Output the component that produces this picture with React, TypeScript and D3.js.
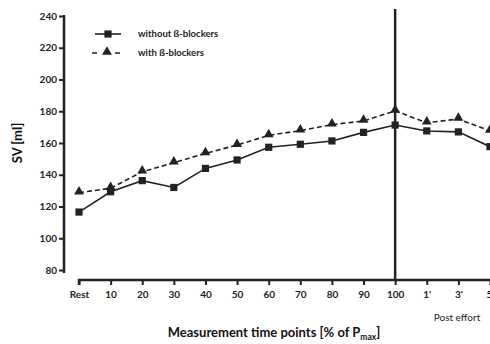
import * as d3 from 'd3';
import { useEffect, useRef } from 'react';

const categories = ['Rest', '10', '20', '30', '40', '50', '60', '70', '80', '90', '100', "1'", "3'", "5'"];
const withoutBlockers = [116.5, 129.3, 136.3, 132, 144, 149.3, 157.3, 159.2, 161.3, 166.7, 171.3, 167.6, 167, 157.7];
const withBlockers = [128.7, 131.5, 141.9, 147.6, 153.5, 158.7, 164.8, 167.8, 171.6, 173.9, 180.2, 172.8, 175.1, 167.6];
const yTicks = [80, 100, 120, 140, 160, 180, 200, 220, 240];

const INK = '#222';
const FONT = 'Lato, "Open Sans", sans-serif';

export default function App() {
  const ref = useRef<SVGSVGElement | null>(null);

  useEffect(() => {
    const svg = d3.select(ref.current);
    svg.selectAll('*').remove();
    const width = 490;
    const height = 344;

    const x = d3.scalePoint<string>().domain(categories).range([79, 490]);
    const y = d3.scaleLinear().domain([80, 240]).range([270, 16]);
    const axisY = 280;
    const yAxisX = 64;

    svg.attr('viewBox', `0 0 ${width} ${height}`);
    svg.append('rect').attr('width', width).attr('height', height).attr('fill', '#fff');

    // y axis
    const gy = svg.append('g').attr('transform', `translate(${yAxisX},0)`);
    gy.call(d3.axisLeft(y).tickValues(yTicks).tickSize(5).tickSizeOuter(0));
    gy.select('.domain').attr('stroke', INK).attr('stroke-width', 2.5).attr('d', `M0,${y(240) - 1}V${y(80) + 3}`);
    gy.selectAll('.tick line').attr('stroke', INK).attr('stroke-width', 2);
    gy.selectAll('.tick text')
      .attr('x', -7)
      .attr('fill', INK)
      .attr('font-family', FONT)
      .attr('font-weight', 700)
      .attr('font-size', 10);

    // x axis
    const gx = svg.append('g').attr('transform', `translate(0,${axisY})`);
    gx.call(d3.axisBottom(x).tickSize(5).tickSizeOuter(0).tickPadding(6));
    gx.select('.domain').attr('stroke', INK).attr('stroke-width', 2.5).attr('d', `M${x('Rest')},5V0H${width}`);
    gx.selectAll('.tick line').attr('stroke', INK).attr('stroke-width', 2);
    gx.selectAll('.tick text')
      .attr('fill', INK)
      .attr('font-family', FONT)
      .attr('font-weight', 700)
      .attr('font-size', 10);

    // vertical marker at 100 %
    svg
      .append('line')
      .attr('x1', x('100')!)
      .attr('x2', x('100')!)
      .attr('y1', 9)
      .attr('y2', axisY)
      .attr('stroke', INK)
      .attr('stroke-width', 2.5);

    const line = d3
      .line<number>()
      .x((_, i) => x(categories[i])!)
      .y((d) => y(d));

    const tri = d3.symbol().type(d3.symbolTriangle).size(42);
    const sq = d3.symbol().type(d3.symbolSquare).size(52);

    // with blockers (dashed, triangles)
    svg
      .append('path')
      .datum(withBlockers)
      .attr('d', line)
      .attr('fill', 'none')
      .attr('stroke', INK)
      .attr('stroke-width', 1.6)
      .attr('stroke-dasharray', '5,3');
    svg
      .append('g')
      .selectAll('path')
      .data(withBlockers)
      .join('path')
      .attr('d', tri)
      .attr('transform', (d, i) => `translate(${x(categories[i])},${y(d) - 1})`)
      .attr('fill', INK);

    // without blockers (solid, squares)
    svg
      .append('path')
      .datum(withoutBlockers)
      .attr('d', line)
      .attr('fill', 'none')
      .attr('stroke', INK)
      .attr('stroke-width', 1.6);
    svg
      .append('g')
      .selectAll('path')
      .data(withoutBlockers)
      .join('path')
      .attr('d', sq)
      .attr('transform', (d, i) => `translate(${x(categories[i])},${y(d)})`)
      .attr('fill', INK);

    // legend
    const lg = svg.append('g');
    lg.append('line').attr('x1', 95).attr('x2', 121).attr('y1', 34).attr('y2', 34).attr('stroke', INK).attr('stroke-width', 1.6);
    lg.append('path').attr('d', sq).attr('transform', 'translate(108,34)').attr('fill', INK);
    lg.append('line')
      .attr('x1', 92)
      .attr('x2', 123)
      .attr('y1', 53)
      .attr('y2', 53)
      .attr('stroke', INK)
      .attr('stroke-width', 1.6)
      .attr('stroke-dasharray', '5,6.5');
    lg.append('path').attr('d', tri).attr('transform', 'translate(107,52)').attr('fill', INK);
    [
      { label: 'without ß-blockers', yy: 34 },
      { label: 'with ß-blockers', yy: 53 },
    ].forEach((d) => {
      lg.append('text')
        .attr('x', 138)
        .attr('y', d.yy)
        .attr('dy', '0.35em')
        .attr('fill', INK)
        .attr('font-family', FONT)
        .attr('font-weight', 700)
        .attr('font-size', 9.5)
        .text(d.label);
    });

    // axis titles
    svg
      .append('text')
      .attr('transform', 'translate(22,143) rotate(-90)')
      .attr('text-anchor', 'middle')
      .attr('fill', '#111')
      .attr('font-family', FONT)
      .attr('font-weight', 700)
      .attr('font-size', 13)
      .text('SV [ml]');

    const title = svg
      .append('text')
      .attr('x', 274)
      .attr('y', 337)
      .attr('text-anchor', 'middle')
      .attr('fill', '#111')
      .attr('font-family', FONT)
      .attr('font-weight', 700)
      .attr('font-size', 13);
    title.append('tspan').text('Measurement time points [% of P');
    title.append('tspan').attr('font-size', 8.5).attr('dy', 3).text('max');
    title.append('tspan').attr('dy', -3).text(']');

    svg
      .append('text')
      .attr('x', 457)
      .attr('y', 321)
      .attr('text-anchor', 'middle')
      .attr('fill', INK)
      .attr('font-family', FONT)
      .attr('font-size', 10)
      .text('Post effort');
  }, []);

  return (
    <svg
      ref={ref}
      width={490}
      height={344}
      style={{ position: 'fixed', left: 0, top: 0, display: 'block' }}
      role="img"
      aria-label="Stroke volume chart"
    />
  );
}
